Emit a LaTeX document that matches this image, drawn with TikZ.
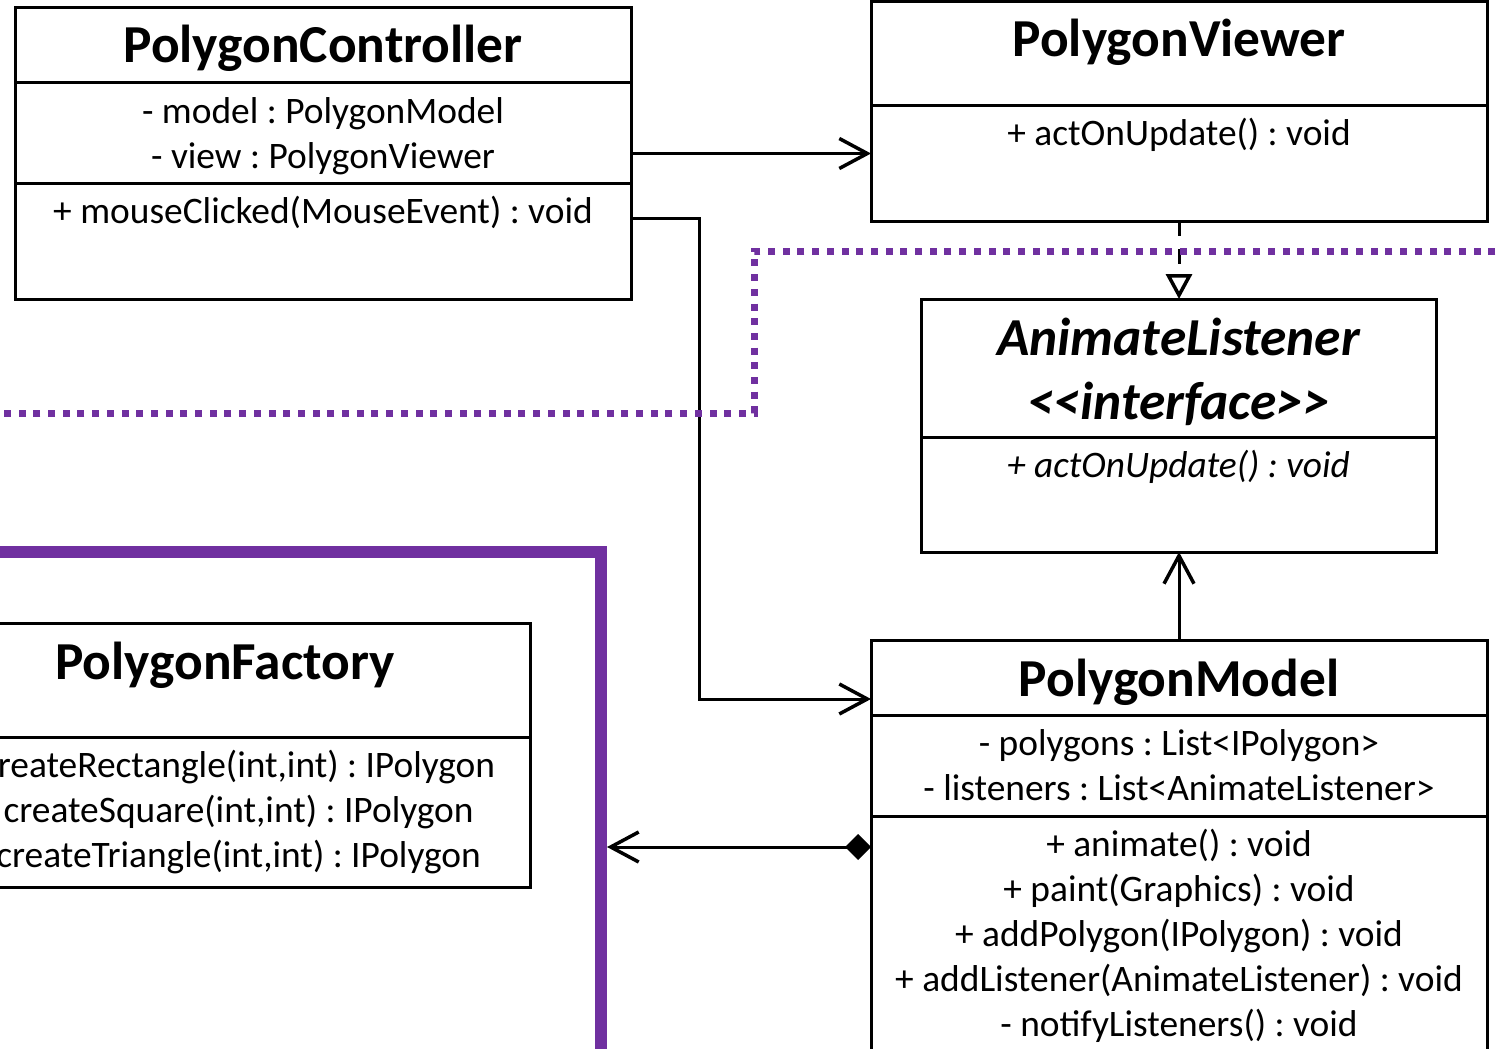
\documentclass[tikz,border=0pt]{standalone}
\usepackage{fontspec}
\setmainfont{Carlito}
\frenchspacing
\usetikzlibrary{arrows.meta}
\definecolor{pkgpurple}{RGB}{112,48,160}
\tikzset{
  classbox/.style={draw,line width=3pt,inner sep=0pt,outer sep=0pt,anchor=north west},
  classname/.style={font=\fontsize{53.4}{64}\selectfont\bfseries,inner sep=0pt,anchor=base},
  members/.style={font=\fontsize{37.4}{45}\selectfont,align=center,inner sep=0pt,anchor=north},
  sepline/.style={line width=3pt},
  assoc/.style={line width=3pt,-{Straight Barb[length=28pt,width=30pt,line width=3.5pt]}},
}
\begin{document}
\begin{tikzpicture}[x=1pt,y=-1pt]
\useasboundingbox (0,0) rectangle (1499,1049);
\clip (0,0) rectangle (1499,1049);
\node [draw=pkgpurple,line width=12pt,inner sep=0pt,outer sep=6pt,minimum width=720pt,minimum height=600pt,anchor=north east] (pkg) at (607,546) {};
\node [classbox,minimum width=616pt,minimum height=291pt] (ctrl) at (15,8) {};
\draw [sepline] (ctrl.west |- 0,82) -- (ctrl.east |- 0,82);
\draw [sepline] (ctrl.west |- 0,183) -- (ctrl.east |- 0,183);
\node [classname] (ctrlname) at (ctrl.north |- 0,63) {PolygonController};
\node [members] (ctrlattr) at (ctrl.north |- 0,91.5) {\strut- model : PolygonModel\\\strut- view : PolygonViewer};
\node [members] (ctrlops) at (ctrl.north |- 0,191.5) {\strut+ mouseClicked(MouseEvent) : void};
\node [classbox,minimum width=616pt,minimum height=219pt] (view) at (871,2) {};
\draw [sepline] (view.west |- 0,105) -- (view.east |- 0,105);
\node [classname] (viewname) at (view.north |- 0,57) {PolygonViewer};
\node [members] (viewops) at (view.north |- 0,113.5) {\strut+ actOnUpdate() : void};
\node [classbox,minimum width=515pt,minimum height=253pt] (lis) at (921,299) {};
\draw [sepline] (lis.west |- 0,437) -- (lis.east |- 0,437);
\node [members,font=\fontsize{53.4}{64}\selectfont\bfseries\itshape] (lisname) at (lis.north |- 0,310) {\strut AnimateListener\\\strut<\kern0pt<interface>\kern0pt>};
\node [members,font=\fontsize{37.4}{45}\selectfont\itshape] (lisops) at (lis.north |- 0,445.5) {\strut+ actOnUpdate() : void};
\node [classbox,minimum width=616pt,minimum height=500pt] (model) at (871,640) {};
\draw [sepline] (model.west |- 0,715) -- (model.east |- 0,715);
\draw [sepline] (model.west |- 0,816) -- (model.east |- 0,816);
\node [classname] (modelname) at (model.north |- 0,696) {PolygonModel};
\node [members] (modelattr) at (model.north |- 0,723.5) {\strut- polygons : List<IPolygon>\\\strut- listeners : List<AnimateListener>};
\node [members] (modelops) at (model.north |- 0,824.5) {\strut+ animate() : void\\\strut+ paint(Graphics) : void\\\strut+ addPolygon(IPolygon) : void\\\strut+ addListener(AnimateListener) : void\\\strut- notifyListeners() : void};
\node [classbox,minimum width=610pt,minimum height=264pt] (fact) at (-80,623) {};
\draw [sepline] (fact.west |- 0,737) -- (fact.east |- 0,737);
\node [classname] (factname) at (fact.north |- 0,679) {PolygonFactory};
\node [members] (factops) at (fact.north |- 0,745.5) {\strut+ createRectangle(int,int) : IPolygon\\\strut+ createSquare(int,int) : IPolygon\\\strut+ createTriangle(int,int) : IPolygon};
\draw [assoc] (ctrl.east) -- (ctrl.east -| view.west);
\coordinate (ctrlout) at (ctrl.east |- 0,218);
\draw [assoc] (ctrlout) -| (699,699) -- (model.west |- 0,699);
\draw [line width=3pt,dash pattern=on 15pt off 13pt,-{Triangle[open,length=25pt,width=26pt,line width=3.5pt]}] (view.south) -- (view.south |- lis.north);
\draw [assoc] (model.north) -- (model.north |- lis.south);
\draw [line width=3pt,{Straight Barb[length=28pt,width=30pt,line width=3.5pt]}-{Diamond[length=26pt,width=26pt]}] (pkg.east |- 0,847) -- (model.west |- 0,847);
\draw [pkgpurple,line width=7pt,dash pattern=on 7pt off 7.7pt] (1510,251) -- (754,251) -- (754,413) -- (-10,413);
\end{tikzpicture}
\end{document}
